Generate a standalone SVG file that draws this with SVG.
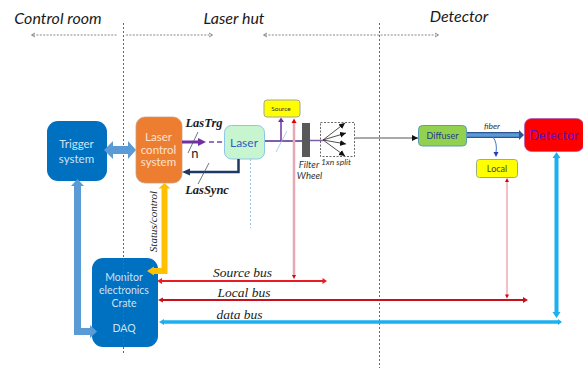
<svg xmlns="http://www.w3.org/2000/svg" width="583" height="368" viewBox="0 0 583 368">
<style>
text{font-family:Lato,"Liberation Sans",sans-serif;text-anchor:middle}
.h{font-size:16px;font-style:italic;fill:#1a1a1a}
.s{font-family:"Liberation Serif",serif;font-style:italic;fill:#1a1a1a}
.sb{font-family:"Liberation Serif",serif;font-style:italic;font-weight:bold;fill:#1a1a1a;font-size:12.5px}
.n{font-size:11.500px;fill:#cfe2f3}
.m{font-size:10.500px;fill:#cfe2f3}
.o{font-size:11.500px;fill:#fbe3d0}
.i{font-style:italic;fill:#333}
.div{fill:none;stroke:#666;stroke-width:1;stroke-dasharray:2 2}
.dash{fill:none;stroke:#888;stroke-width:1;stroke-dasharray:2 1.400}
.chev{fill:none;stroke:#888;stroke-width:1}
.ray{stroke:#222;stroke-width:0.800;marker-end:url(#k)}
</style>
<defs>
<marker id="k" markerWidth="8" markerHeight="8" refX="6" refY="3" orient="auto" markerUnits="userSpaceOnUse"><path d="M0 0L6 3L0 6z" fill="#111"/></marker>
</defs>
<g id="trigger"><rect x="47" y="121" width="60" height="60" rx="11" fill="#0070c0"/><text class="n" x="76.500" y="148">Trigger</text><text class="n" x="76.500" y="163">system</text></g>
<g id="lcs"><rect x="136" y="117" width="46" height="66" rx="9" fill="#ed7d31" stroke="#c9a080" stroke-width="0.800"/><text class="o" x="158.500" y="141">Laser</text><text class="o" x="158.500" y="153.500">control</text><text class="o" x="158.500" y="166">system</text></g>
<g id="laser"><rect x="224.500" y="125.500" width="40" height="33.500" rx="7" fill="#c6f5cf" stroke="#8ec5e8"/><text x="244" y="146.500" font-size="12" fill="#2f5fc0">Laser</text></g>
<g id="source"><rect x="264" y="100" width="36" height="17" rx="3" fill="#ffff00" stroke="#a0a890"/><text x="281" y="111" font-size="6.500" fill="#333">Source</text></g>
<g id="diffuser"><rect x="418.500" y="125.500" width="48" height="20.500" rx="4" fill="#92d050" stroke="#5b9bb5"/><text x="442.500" y="138.500" font-size="9" fill="#1f3c88">Diffuser</text></g>
<g id="detector"><rect x="524.500" y="118.500" width="59" height="33" rx="7" fill="#ff0000" stroke="#a060c0" stroke-width="0.700"/><text x="554" y="140" font-size="12.500" fill="#5a10c8">Detector</text></g>
<g id="local"><rect x="476.500" y="159.500" width="41" height="18" rx="3" fill="#ffff00" stroke="#a0a890"/><text x="497" y="171.500" font-size="9" fill="#444">Local</text></g>
<g id="monitor"><rect x="92" y="258" width="66" height="89" rx="11" fill="#0070c0"/><text class="m" x="124" y="280.500">Monitor</text><text class="m" x="124" y="293.500">electronics</text><text class="m" x="124" y="306.500">Crate</text><text class="m" x="124" y="332">DAQ</text></g>
<g id="connectors">
<path class="div" d="M123.500 23V353"/>
<path class="div" d="M379.500 23V368"/>
<path class="dash" d="M33 35H117M126 35H211"/>
<path class="chev" d="M35 33L31.500 35L35 37M209 33L212.500 35L209 37"/>
<path class="dash" d="M265 35H436"/>
<path class="chev" d="M267 33L263.500 35L267 37M435 33L438.500 35L435 37"/>
<path d="M77.500 185V331.500H91" fill="none" stroke="#5b9bd5" stroke-width="7"/>
<path d="M71 186L77.500 179L84 186z" fill="#5b9bd5"/>
<path d="M90 325L97 331.500L90 338z" fill="#5b9bd5"/>
<path d="M112 150H129" stroke="#5b9bd5" stroke-width="8"/>
<path d="M113 141L104 150L113 159zM128 141L136 150L128 159z" fill="#5b9bd5"/>
<path d="M164.500 187V271H154" fill="none" stroke="#ffc000" stroke-width="6"/>
<path d="M154 266.500V275.500L147 271zM158.500 188.500L164.500 183L170.500 188.500z" fill="#ffc000"/>
<path d="M182 142H200" stroke="#7030a0" stroke-width="3"/>
<path d="M198 138L206 142L198 146z" fill="#7030a0"/>
<path d="M209 142H224" stroke="#9a70b8" stroke-width="2" stroke-dasharray="5 3"/>
<path d="M238.500 159V172H188" fill="none" stroke="#1f3864" stroke-width="2.500"/>
<path d="M190 168.500L182 172L190 175.500z" fill="#1f3864"/>
<path d="M198 132L188 153M209 163L198 184" stroke="#44546a" stroke-width="0.800" fill="none"/>
<path d="M250.500 159V228" class="div" style="stroke:#9cc6e8"/>
<path d="M265 141H302" stroke="#7f5fa8" stroke-width="2"/>
<path d="M281 141V121" stroke="#7030a0" stroke-width="1.500"/>
<path d="M278 122L281 117.500L284 122z" fill="#7030a0"/>
<path d="M287 131L276 152" stroke="#9dc3e6" stroke-width="0.800"/>
<path d="M294 122V276" stroke="#e8a8b4" stroke-width="2.500"/>
<path d="M291.500 123L294 118.500L296.500 123z" fill="#e00000"/>
<path d="M292 275H296L294 279z" fill="#e00000"/>
<path d="M310 140.500H323" stroke="#7f5fa8" stroke-width="1.500"/>
<rect x="302" y="123" width="8" height="34" fill="#595959"/>
<rect x="320.500" y="122.500" width="34" height="34" fill="none" stroke="#444" stroke-width="0.800" stroke-dasharray="2 1.500"/>
<path class="ray" d="M323 140L345 123"/>
<path class="ray" d="M323 140L346 133"/>
<path class="ray" d="M323 140L346 144"/>
<path class="ray" d="M323 140L345 156"/>
<path d="M355 138H418" stroke="#555" stroke-width="1" marker-end="url(#k)"/>
<path d="M467 135H520" stroke="#2f5597" stroke-width="6"/>
<path d="M467 135H520" stroke="#5b9bd5" stroke-width="3.500"/>
<path d="M519 130L524 135L519 140z" fill="#2f5597"/>
<path d="M493 137C496 141 497 146 496 153" fill="none" stroke="#4472c4" stroke-width="1"/>
<path d="M493.500 152H498.500L496 157z" fill="#2040c0"/>
<path d="M507 181V296" stroke="#e5808a" stroke-width="1"/>
<path d="M505 182L507 178L509 182zM505 294.500H509L507 298.500z" fill="#e00000"/>
<path d="M556.500 157V314" stroke="#1bb0f0" stroke-width="4"/>
<path d="M552.500 158L556.500 152L560.500 158zM552.500 312H560.500L556.500 318z" fill="#1bb0f0"/>
<path d="M162 281H324" stroke="#e81c24" stroke-width="1.800"/>
<path d="M162 278L157 281L162 284zM322.500 278L327 281L322.500 284z" fill="#e81c24"/>
<path d="M162 300H524" stroke="#c8101c" stroke-width="1.800"/>
<path d="M163 297.500L158 300L163 302.500zM523 297L528 300L523 303z" fill="#c8101c"/>
<path d="M163 322H559" stroke="#1bb0f0" stroke-width="3.500"/>
<path d="M164 319L159 322L164 325zM558 319L562 322L558 325z" fill="#1bb0f0"/>
</g>
<g id="labels">
<text class="h" x="58" y="24">Control room</text>
<text class="h" x="234" y="24">Laser hut</text>
<text class="h" x="459" y="21.500">Detector</text>
<text class="sb" x="204" y="127">LasTrg</text>
<text x="195" y="158" font-size="13" fill="#222">n</text>
<text class="sb" x="207" y="194">LasSync</text>
<text class="s" font-size="11" transform="translate(157 221.500) rotate(-90)">Status/control</text>
<text class="i" x="309" y="167.500" font-size="9.500">Filter</text>
<text class="i" x="309.500" y="178.500" font-size="9.500">Wheel</text>
<text class="i" x="336" y="164.500" font-size="8.500">1xn split</text>
<text class="i" x="492" y="129" font-size="8.500">fiber</text>
<text class="s" font-size="13.500" x="242.500" y="277">Source bus</text>
<text class="s" font-size="13.500" x="244" y="297">Local bus</text>
<text class="s" font-size="13.500" x="239.500" y="319">data bus</text>
</g>
</svg>
